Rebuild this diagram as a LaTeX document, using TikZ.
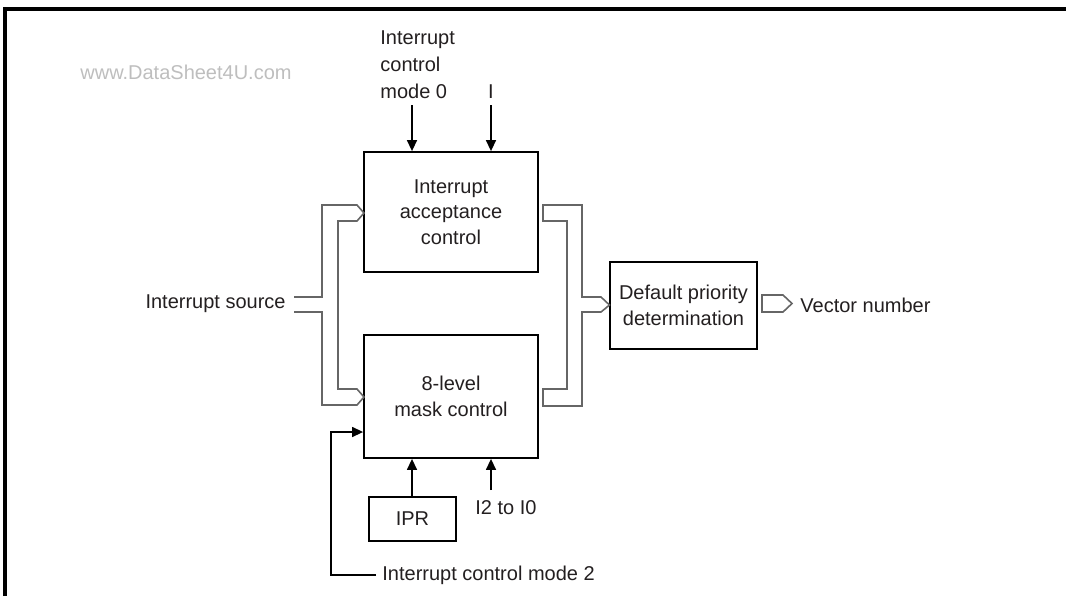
\documentclass[tikz,border=0pt]{standalone}
\usepackage{fontspec}
\setmainfont{Liberation Sans}
\usetikzlibrary{arrows.meta}
\definecolor{txt}{HTML}{231F20}
\definecolor{busgray}{HTML}{666666}
\definecolor{wm}{HTML}{BEBEBE}
\begin{document}
\begin{tikzpicture}[x=0.5pt,y=-0.5pt,
  box/.style={draw=black, line width=0.9pt, align=center, inner sep=0pt, font=\fontsize{10pt}{12.8pt}\selectfont, text=txt},
  lbl/.style={inner sep=0pt, font=\fontsize{10pt}{13.5pt}\selectfont, text=txt},
  bus/.style={draw=busgray, line width=0.8pt, line join=miter},
  arr/.style={draw=black, line width=0.7pt, -{Triangle[length=5.5pt,width=5pt]}}]
\useasboundingbox (0,0) rectangle (1066,596);
% frame
\draw[line width=1.6pt] (5,596) -- (5,9) -- (1066,9);
% watermark
\node[lbl, text=wm, anchor=west] (wmark) at (80,72) {www.DataSheet4U.com};
% boxes
\node[box, minimum width=87pt, minimum height=60pt] (acc) at (451,212) {Interrupt\\acceptance\\control};
\node[box, minimum width=87pt, minimum height=61.5pt] (mask) at (451,396.5) {8-level\\mask control};
\node[box, minimum width=73.5pt, minimum height=43.5pt] (dpd) at (683.5,305.5) {Default priority\\determination};
\node[box, minimum width=43.5pt, minimum height=22pt] (ipr) at (412.5,519) {IPR};
% labels
\node[lbl, anchor=west, align=left] (m0lbl) at (380,65) {Interrupt\\control\\mode 0};
\node[lbl] (ilbl) at (491,92) {I};
\node[lbl, anchor=east] (srclbl) at (286,304) {Interrupt source};
\node[lbl, anchor=west] (veclbl) at (800,305) {Vector number};
\node[lbl, anchor=west] (i2lbl) at (475,508) {I2 to I0};
\node[lbl, anchor=west, inner xsep=3pt] (m2lbl) at (376,575) {Interrupt control mode 2};
% top arrows
\coordinate (m0s) at (412,105);
\coordinate (is) at (491,105);
\draw[arr] (m0s) -- (m0s |- acc.north);
\draw[arr] (is) -- (is |- acc.north);
% bottom arrows
\draw[arr] (ipr.north -| 412,0) -- (412,0 |- mask.south);
\coordinate (i2s) at (491,490);
\draw[arr] (i2s) -- (i2s |- mask.south);
% mode 2
\coordinate (m2c) at (331,432);
\draw[arr] (m2lbl.west) -| (m2c) -- (m2c -| mask.west);
% left bus
\draw[bus] (294,297) -- (322,297) -- (322,205) -- (357,205) -- (364,213) -- (357,221) -- (338,221)
  -- (338,389) -- (357,389) -- (364,397) -- (357,405) -- (322,405) -- (322,312) -- (294,312);
% right bus
\draw[bus] (543,205) -- (582,205) -- (582,297) -- (601,297) -- (609.5,305) -- (601,312) -- (582,312)
  -- (582,406) -- (543,406) -- (543,389) -- (567,389) -- (567,221) -- (543,221) -- cycle;
% vector number arrow
\draw[bus] (762,295) -- (783,295) -- (792,303.5) -- (783,312) -- (762,312) -- cycle;
\end{tikzpicture}
\end{document}
